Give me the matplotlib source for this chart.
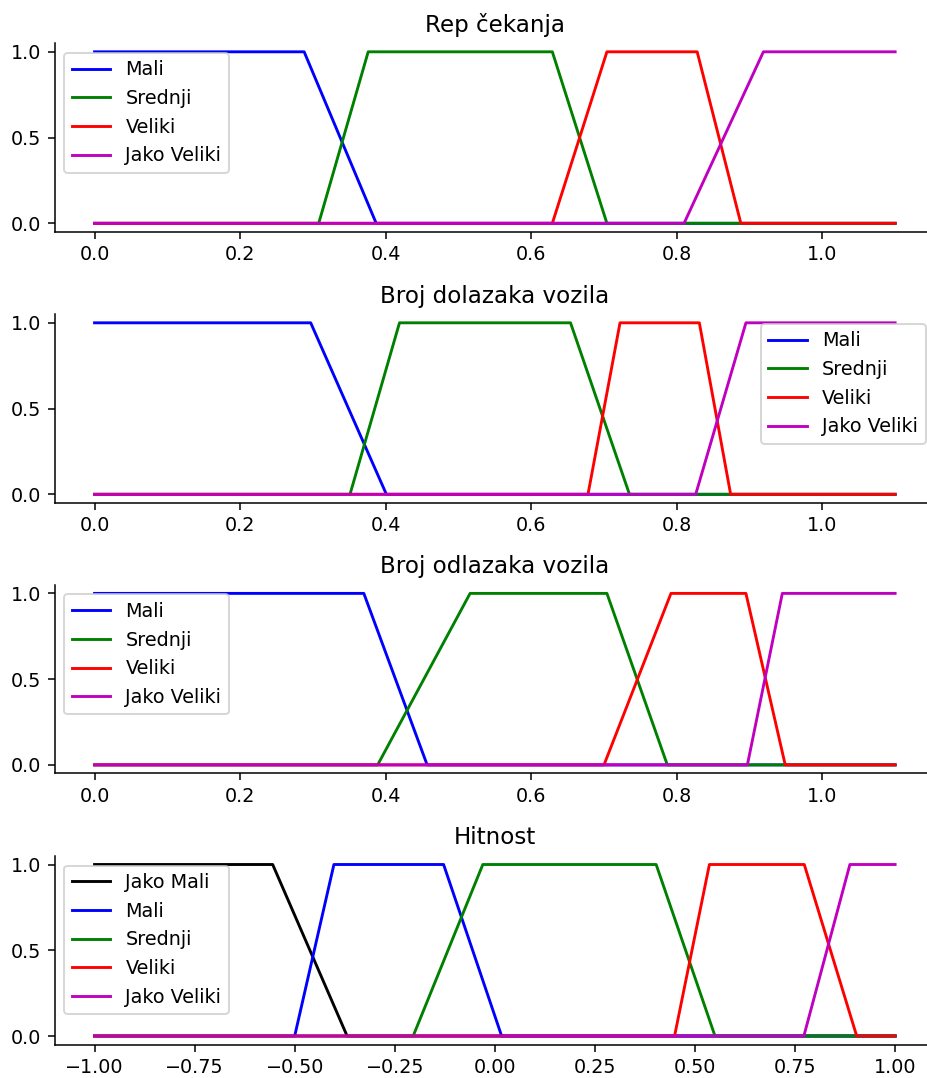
import numpy as np
import matplotlib.pyplot as plt

# universes
x_range = [0.0, 1.1]
hit_range = [-1.0, 1.0]

# trapezoid breakpoints [a, b, c, d]
rep_mali = [0.0, 0.0, 0.288, 0.387]
rep_srednji = [0.308, 0.376, 0.629, 0.704]
rep_veliki = [0.629, 0.704, 0.828, 0.888]
rep_jako = [0.810, 0.919, 1.1, 1.1]

dol_mali = [0.0, 0.0, 0.297, 0.401]
dol_srednji = [0.351, 0.419, 0.654, 0.735]
dol_veliki = [0.678, 0.722, 0.831, 0.874]
dol_jako = [0.826, 0.895, 1.1, 1.1]

odl_mali = [0.0, 0.0, 0.370, 0.457]
odl_srednji = [0.389, 0.516, 0.704, 0.787]
odl_veliki = [0.700, 0.792, 0.895, 0.949]
odl_jako = [0.897, 0.945, 1.1, 1.1]

hit_jako_mali = [-1.0, -1.0, -0.555, -0.369]
hit_mali = [-0.500, -0.402, -0.128, 0.017]
hit_srednji = [-0.204, -0.030, 0.403, 0.550]
hit_veliki = [0.449, 0.536, 0.773, 0.904]
hit_jako = [0.772, 0.887, 1.0, 1.0]

labels4 = ['Mali', 'Srednji', 'Veliki', 'Jako Veliki']
labels5 = ['Jako Mali', 'Mali', 'Srednji', 'Veliki', 'Jako Veliki']
colors4 = ['b', 'g', 'r', 'm']
colors5 = ['k', 'b', 'g', 'r', 'm']


def trap(uni, p):
    # polyline through the trapezoid corners, clipped to universe
    a, b, c, d = p
    xs = [uni[0], a, b, c, d, uni[1]]
    ys = [0, 0, 1, 1, 0, 0]
    if a == b == uni[0]:
        xs, ys = [uni[0], c, d, uni[1]], [1, 1, 0, 0]
    if c == d == uni[1]:
        xs, ys = [uni[0], a, b, uni[1]], [0, 0, 1, 1]
    return xs, ys


panels = [
    ('Rep čekanja', x_range, [rep_mali, rep_srednji, rep_veliki, rep_jako], labels4, colors4, 'upper left'),
    ('Broj dolazaka vozila', x_range, [dol_mali, dol_srednji, dol_veliki, dol_jako], labels4, colors4, 'upper right'),
    ('Broj odlazaka vozila', x_range, [odl_mali, odl_srednji, odl_veliki, odl_jako], labels4, colors4, 'upper left'),
    ('Hitnost', hit_range, [hit_jako_mali, hit_mali, hit_srednji, hit_veliki, hit_jako], labels5, colors5, 'upper left'),
]

dpi = 138
fig = plt.figure(figsize=(927/dpi, 1078/dpi), dpi=dpi)
bottoms = [0.7849, 0.5335, 0.2825, 0.0310]

for bot, (title, uni, sets, labs, cols, loc) in zip(bottoms, panels):
    ax = fig.add_axes([0.0588, bot, 0.950, 0.1750])
    for p, lab, c in zip(sets, labs, cols):
        xs, ys = trap(uni, p)
        ax.plot(xs, ys, c, linewidth=1.5, label=lab)
    ax.set_yticks([0, 0.5, 1.0])
    ax.set_title(title)
    ax.legend(loc=loc)
    ax.spines['top'].set_visible(False)
    ax.spines['right'].set_visible(False)
    ax.get_xaxis().tick_bottom()
    ax.get_yaxis().tick_left()

plt.savefig('out.png', dpi=dpi)
